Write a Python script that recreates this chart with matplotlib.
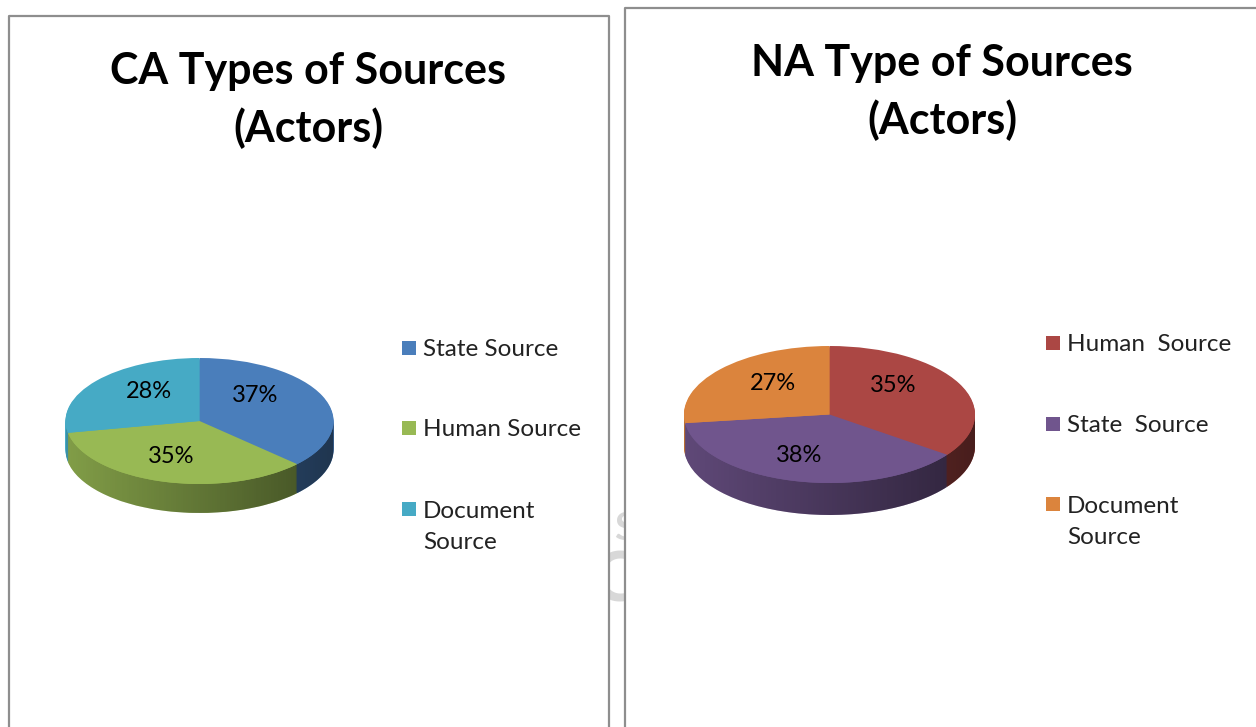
import numpy as np
import matplotlib
matplotlib.use("Agg")
from matplotlib import pyplot as plt
from matplotlib.lines import Line2D
from matplotlib.patches import Rectangle, PathPatch
from matplotlib.path import Path

W, H = 1256, 727
plt.rcParams['font.family'] = ['Lato', 'DejaVu Sans']

# left chart
ca_title = "CA Types of Sources\n(Actors)"
ca_labels = ["State Source", "Human Source", "Document\nSource"]
ca_values = [37, 35, 28]
ca_colors = ["#4a7ebb", "#98b954", "#46aac5"]

# right chart
na_title = "NA Type of Sources\n(Actors)"
na_labels = ["Human  Source", "State  Source", "Document\nSource"]
na_values = [35, 38, 27]
na_colors = ["#ab4744", "#70558d", "#db843d"]


def fx(x):
    return x / W


def fy(y):
    return 1 - y / H


def draw_pie(fig, values, colors, cx, cy, rx, ry, depth, pct_pos):
    ax = fig.add_axes([fx(cx - rx), fy(cy + ry + depth), 2 * rx / W, (2 * ry + depth) / H])
    d = depth / ry
    # side wall, stacked from the bottom up
    for k in range(depth, 0, -1):
        ax.pie(values, colors=colors, startangle=90, counterclock=False, center=(0, -k / ry),
               wedgeprops=dict(linewidth=0, zorder=1))
    # darkening towards the right of the wall
    t = np.linspace(np.pi, 2 * np.pi, 200)
    xs = np.r_[np.cos(t), np.cos(t[::-1])]
    ys = np.r_[np.sin(t) - d, np.sin(t[::-1])]
    shade = np.zeros((1, 256, 4))
    shade[0, :, 3] = np.linspace(0.15, 0.58, 256)
    img = ax.imshow(shade, extent=(-1, 1, -1 - d, 1), aspect='auto', zorder=2)
    wall = PathPatch(Path(np.c_[xs, ys]), transform=ax.transData, facecolor='none', edgecolor='none')
    ax.add_patch(wall)
    img.set_clip_path(wall)
    # top face
    ax.pie(values, colors=colors, startangle=90, counterclock=False,
           wedgeprops=dict(linewidth=0, zorder=3))
    ax.set_aspect('auto')
    ax.set_xlim(-1, 1)
    ax.set_ylim(-1 - d, 1)
    for v, (px, py) in zip(values, pct_pos):
        fig.text(fx(px), fy(py), f"{v}%", fontsize=17, ha='center', va='center', color='black', zorder=5)


def draw_legend(fig, labels, colors, box_x, text_x, rows):
    for lab, col, y in zip(labels, colors, rows):
        fig.add_artist(Rectangle((fx(box_x), fy(y + 7)), 14 / W, 14 / H, transform=fig.transFigure,
                                 facecolor=col, edgecolor='none'))
        # baseline of a wrapped label is the one of its last line
        base = y + 8 + 32 * lab.count("\n")
        fig.text(fx(text_x), fy(base), lab, fontsize=17.5, ha='left', va='baseline',
                 linespacing=1.6, color='#222222')


fig = plt.figure(figsize=(W / 100, H / 100), dpi=100, facecolor='white')

# watermark pieces showing between the two frames
for ch, x, y, size in [("S", 614, 540, 28), ("C", 592, 601, 50)]:
    t = fig.text(fx(x), fy(y), ch, fontsize=size, fontweight='bold', color='#d8d8d8',
                 ha='left', va='baseline', zorder=0)
    t.set_clip_path(Rectangle((fx(609), fy(620)), 15 / W, 140 / H, transform=fig.transFigure))

# frames
frame = dict(color='#8e8e8e', linewidth=1.6, transform=fig.transFigure)
fig.add_artist(Line2D([fx(9), fx(9), fx(609), fx(609)], [0, fy(16), fy(16), 0], **frame))
fig.add_artist(Line2D([fx(625), fx(625), 1], [0, fy(8), fy(8)], **frame))

fig.text(fx(308), fy(100), ca_title, fontsize=31, fontweight='bold', ha='center', va='center',
         linespacing=1.47, color='black')
fig.text(fx(942), fy(92), na_title, fontsize=31, fontweight='bold', ha='center', va='center',
         linespacing=1.47, color='black')

draw_pie(fig, ca_values, ca_colors, 199.5, 421, 134, 63, 29, [(255, 396), (171, 456), (149, 392)])
draw_pie(fig, na_values, na_colors, 829.5, 414.5, 145.5, 68.5, 32, [(893, 385), (799, 455), (773, 383)])

draw_legend(fig, ca_labels, ca_colors, 402, 423, [348, 428, 509])
draw_legend(fig, na_labels, na_colors, 1046, 1067, [343, 424, 504])

fig.savefig("out.png", dpi=100)
